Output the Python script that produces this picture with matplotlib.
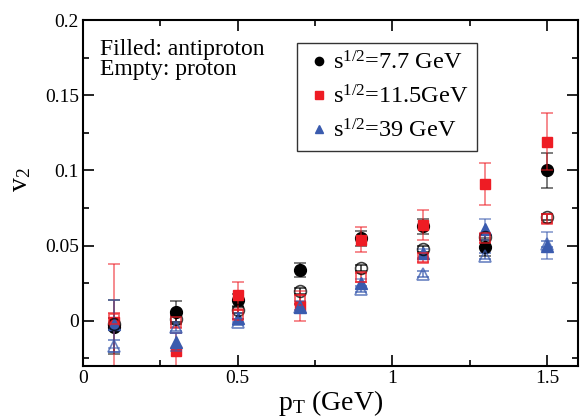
import numpy as np
import matplotlib
matplotlib.use("Agg")
import matplotlib.pyplot as plt
from matplotlib.ticker import MultipleLocator

plt.rcParams["font.family"] = ["Liberation Serif", "DejaVu Serif"]
plt.rcParams["mathtext.fontset"] = "custom"
plt.rcParams["mathtext.rm"] = "Liberation Serif"
plt.rcParams["mathtext.it"] = "Liberation Serif:italic"

# pT bins (GeV)
pt = [0.1, 0.3, 0.5, 0.7, 0.9, 1.1, 1.3, 1.5]

# antiproton (filled)
v2_pbar_77 = [-0.004, 0.006, 0.014, 0.034, 0.055, 0.063, 0.049, 0.100]
err_pbar_77 = [0.018, 0.007, 0.004, 0.0045, 0.005, 0.005, 0.006, 0.0117]
v2_pbar_115 = [-0.001, -0.020, 0.017, 0.010, 0.054, 0.064, 0.091, 0.119]
err_pbar_115 = [0.039, 0.012, 0.009, 0.010, 0.0085, 0.010, 0.014, 0.019]
v2_pbar_39 = [-0.002, -0.014, 0.002, 0.009, 0.025, 0.045, 0.061, 0.050]
err_pbar_39 = [0.016, 0.006, 0.003, 0.004, 0.003, 0.003, 0.007, 0.009]

# proton (empty)
v2_p_77 = [-0.002, 0.001, 0.007, 0.020, 0.035, 0.048, 0.056, 0.069]
err_p_77 = [0.004, 0.003, 0.002, 0.002, 0.002, 0.002, 0.002, 0.002]
v2_p_115 = [0.001, -0.001, 0.004, 0.014, 0.029, 0.042, 0.055, 0.068]
err_p_115 = [0.004, 0.004, 0.003, 0.003, 0.003, 0.003, 0.003, 0.003]
v2_p_39 = [-0.017, -0.004, -0.001, 0.009, 0.021, 0.031, 0.043, 0.051]
err_p_39 = [0.004, 0.003, 0.002, 0.002, 0.002, 0.002, 0.002, 0.002]

labels = ["s$^\\mathregular{1/2}$=7.7 GeV", "s$^\\mathregular{1/2}$=11.5GeV",
          "s$^\\mathregular{1/2}$=39 GeV"]
colors = ["#000000", "#ee1c24", "#3a5bae"]
markers = ["o", "s", "^"]
msizes = [8.5, 7.5, 8.5]

fig = plt.figure(figsize=(5.8, 4.19), dpi=100)
ax = fig.add_axes([0.143, 0.1265, 0.8536, 0.8255])

empty_sets = [(v2_p_77, err_p_77), (v2_p_115, err_p_115), (v2_p_39, err_p_39)]
filled_sets = [(v2_pbar_77, err_pbar_77), (v2_pbar_115, err_pbar_115),
               (v2_pbar_39, err_pbar_39)]

for (v, e), c, m, ms in zip(empty_sets, colors, markers, msizes):
    ax.errorbar(pt, v, yerr=e, fmt=m, ms=ms, mfc="none", mec=c, mew=1.2,
                ecolor=c, elinewidth=1.2, capsize=4, capthick=1.2, alpha=0.75,
                linestyle="none")

handles = []
for (v, e), c, m, ms, lab in zip(filled_sets, colors, markers, msizes, labels):
    ax.errorbar(pt, v, yerr=e, fmt="none", ecolor=c, elinewidth=1.2,
                capsize=4, capthick=1.2, alpha=0.6)
    h, = ax.plot(pt, v, m, ms=ms, color=c, linestyle="none", label=lab)
    handles.append(h)

ax.set_xlim(0, 1.6)
ax.set_ylim(-0.03, 0.2)
ax.xaxis.set_minor_locator(MultipleLocator(0.25))
ax.yaxis.set_minor_locator(MultipleLocator(0.025))
ax.set_xticks([0, 0.5, 1, 1.5])
ax.set_xticklabels(["0", "0.5", "1", "1.5"])
ax.set_yticks([0, 0.05, 0.1, 0.15, 0.2])
ax.set_yticklabels(["0", "0.05", "0.1", "0.15", "0.2"])
ax.tick_params(which="both", direction="in", top=True, right=True,
               labelsize=14, width=1.2)
ax.tick_params(which="major", length=8, pad=3)
ax.tick_params(which="minor", length=4)
for s in ax.spines.values():
    s.set_linewidth(1.5)

ax.set_xlabel("p$_\\mathregular{T}$ (GeV)", fontsize=20, labelpad=0.5)
ax.set_ylabel("v$_\\mathregular{2}$", fontsize=20)
ax.yaxis.set_label_coords(-0.1, 0.54)

ax.text(0.035, 0.945, "Filled: antiproton\nEmpty: proton", transform=ax.transAxes,
        fontsize=17, va="top", ha="left", linespacing=0.95)

leg = ax.legend(handles=handles, loc="upper left", bbox_to_anchor=(0.432, 0.935),
                fontsize=17.5, frameon=True, fancybox=False, handletextpad=0.05,
                handlelength=1.1, borderpad=0.35, labelspacing=0.45,
                markerscale=0.7, borderaxespad=0)
leg.get_frame().set_edgecolor("black")
leg.get_frame().set_linewidth(1.0)

fig.savefig("out.png", dpi=100)
